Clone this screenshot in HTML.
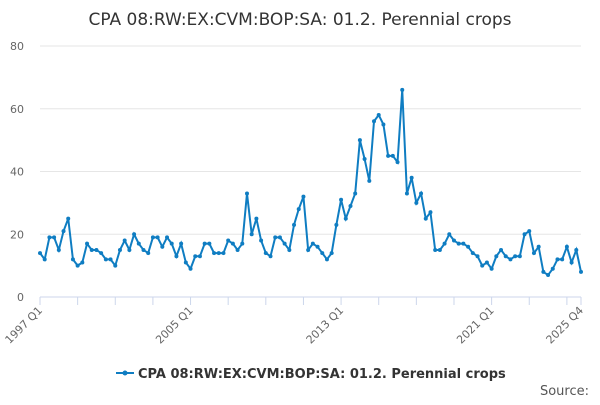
<!DOCTYPE html>
<html><head><meta charset="utf-8"><style>
body{margin:0;background:#fff;font-family:"Liberation Sans","DejaVu Sans",sans-serif}
</style></head><body>
<svg id="chart" width="600" height="400" viewBox="0 0 600 400">
<text x="300" y="25" text-anchor="middle" font-size="17" fill="#333" font-family="DejaVu Sans, sans-serif">CPA 08:RW:EX:CVM:BOP:SA: 01.2. Perennial crops</text>
<g id="grid"></g><g id="axes"></g><g id="series"></g>
<g>
<line x1="116" y1="373" x2="134" y2="373" stroke="#0f7dc2" stroke-width="2"/>
<circle cx="125" cy="373" r="2.5" fill="#0f7dc2"/>
<text x="138" y="378" font-size="13" font-weight="bold" fill="#333" font-family="DejaVu Sans, sans-serif">CPA 08:RW:EX:CVM:BOP:SA: 01.2. Perennial crops</text>
</g>
<text x="589" y="395" text-anchor="end" font-size="13" fill="#555" font-family="DejaVu Sans, sans-serif">Source:</text>
</svg>
<script>
const values=[14,12,19,19,15,21,25,12,10,11,17,15,15,14,12,12,10,15,18,15,20,17,15,14,19,19,16,19,17,13,17,11,9,13,13,17,17,14,14,14,18,17,15,17,33,20,25,18,14,13,19,19,17,15,23,28,32,15,17,16,14,12,14,23,31,25,29,33,50,44,37,56,58,55,45,45,43,66,33,38,30,33,25,27,15,15,17,20,18,17,17,16,14,13,10,11,9,13,15,13,12,13,13,20,21,14,16,8,7,9,12,12,16,11,15,8];
const yTicks=[0,20,40,60,80];
const xTickLabels=["1997 Q1","2005 Q1","2013 Q1","2021 Q1","2025 Q4"];
const xTickIdx=[0,32,64,96,115];
const NS="http://www.w3.org/2000/svg";
const X0=40,X1=581,Y0=297,Y1=46;
const x=i=>X0+(X1-X0)*i/(values.length-1);
const y=v=>Y0-(Y0-Y1)*v/80;
function mk(t,a,p){const e=document.createElementNS(NS,t);for(const k in a)e.setAttribute(k,a[k]);p.appendChild(e);return e;}
const grid=document.getElementById('grid'),axes=document.getElementById('axes'),ser=document.getElementById('series');
yTicks.forEach(v=>{
 const l=mk('line',{x1:X0,x2:X1,y1:y(v),y2:y(v),stroke:v===0?'#ccd6eb':'#e6e6e6'},grid);
 
 
 const t=mk('text',{x:24,y:y(v)+4,'text-anchor':'end','font-size':11,fill:'#666','font-family':'DejaVu Sans, sans-serif'},axes);
 t.textContent=v;
 
 
});
for(let yr=0;yr<=29;yr++){
 const i=Math.min(yr*4,115);
 if(yr%2===0||yr===29){
  const tk=mk('line',{x1:x(i),x2:x(i),y1:Y0,y2:Y0+8,stroke:'#ccd6eb'},axes);
  
  
 }
}
xTickLabels.forEach((s,k)=>{
 const xx=x(xTickIdx[k]);
 const t=mk('text',{x:xx+3,y:Y0+14,'text-anchor':'end','font-size':11,fill:'#666','font-family':'DejaVu Sans, sans-serif',transform:`rotate(-45 ${xx+3} ${Y0+14})`},axes);
 t.textContent=s;
 
 
});
const p=mk('path',{d:values.map((v,i)=>(i?'L':'M')+x(i)+' '+y(v)).join(''),fill:'none',stroke:'#0f7dc2','stroke-width':2},ser);


values.forEach((v,i)=>{
 const c=mk('circle',{cx:x(i),cy:y(v),r:2,fill:'#0f7dc2'},ser);
 
 
});
</script>
</body></html>
